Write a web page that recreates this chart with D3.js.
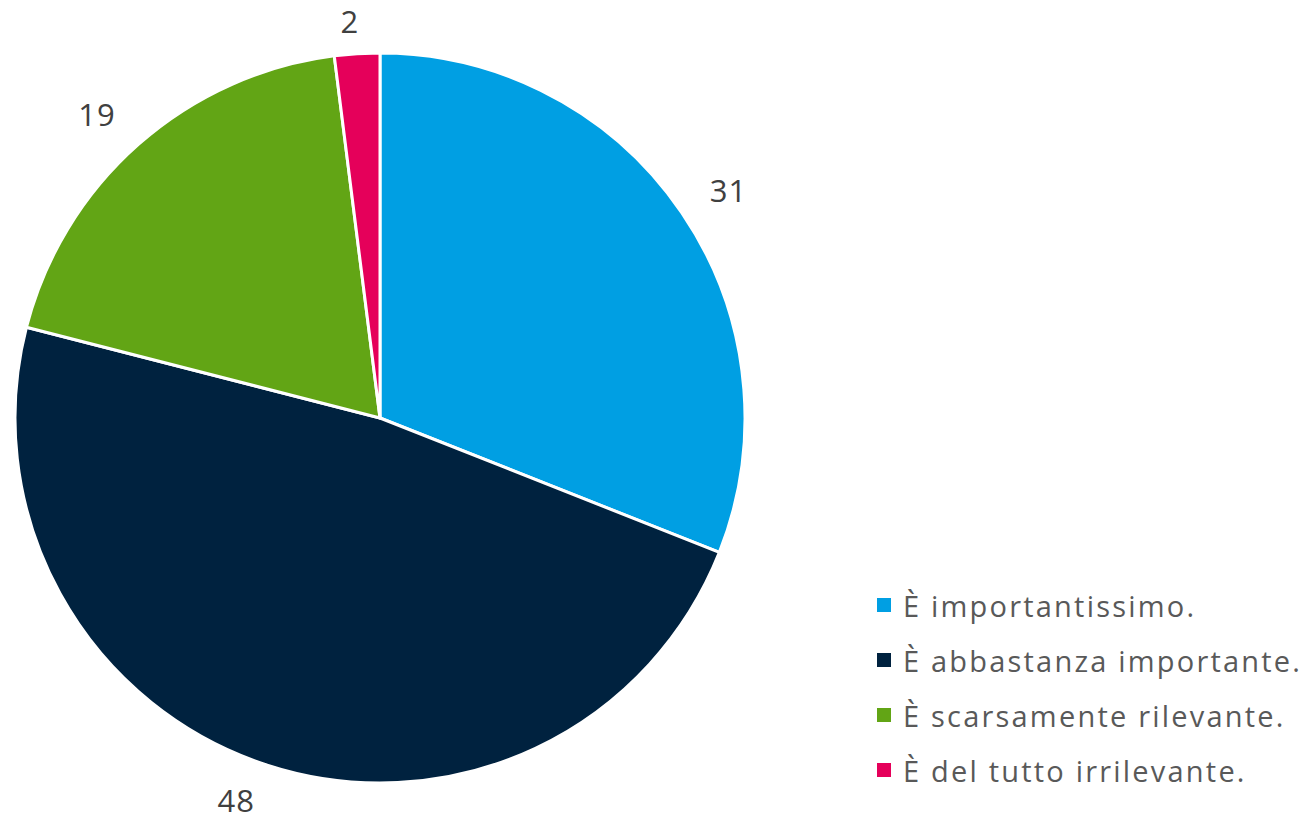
<!DOCTYPE html>
<html><head><meta charset="utf-8">
<script src="https://cdn.jsdelivr.net/npm/d3@7"></script>
<style>
html,body{margin:0;padding:0;background:#fff;}
svg{display:block;font-family:"Open Sans","Noto Sans",sans-serif;}
</style></head>
<body><svg id="chart" width="1307" height="824"></svg>
<script>
const categories = ["È importantissimo.", "È abbastanza importante.", "È scarsamente rilevante.", "È del tutto irrilevante."];
const values = [31, 48, 19, 2];
const colors = ["#009fe3", "#00223f", "#62a515", "#e5005a"];

const svg = d3.select("#chart");
const cx = 380, cy = 418, R = 365;

const pie = d3.pie().sort(null).value(d => d)(values);
const arc = d3.arc().innerRadius(0).outerRadius(R);

const g = svg.append("g").attr("transform", `translate(${cx},${cy})`);
g.selectAll("path.slice").data(pie).join("path")
  .attr("class", "slice")
  .attr("d", arc)
  .attr("fill", (d, i) => colors[i])
  .attr("stroke", "#fff")
  .attr("stroke-width", 3)
  .attr("stroke-linejoin", "round");

// data labels outside end
const labelR = 395;
const lbl = g.selectAll("text.lbl").data(pie).join("text")
  .attr("class", "lbl")
  .attr("text-anchor", "middle")
  .attr("dominant-baseline", "central")
  .attr("font-size", 31)
  .attr("letter-spacing", 1)
  .attr("fill", "#404040")
  .text(d => d.data);
lbl.each(function(d) {
  const bb = this.getBBox();
  const a = (d.startAngle + d.endAngle) / 2;
  const s = Math.sin(a), c = Math.cos(a);
  const sg = Math.sign(s);
  const ox = sg * (bb.width / 2 * Math.min(1, Math.abs(s) * 4) + 3);
  const oy = -c * 12 * Math.sqrt(Math.abs(s));
  d3.select(this).attr("x", labelR * s + ox).attr("y", -labelR * c + oy);
});

// legend
const legY = d3.scalePoint().domain(categories).range([605, 770]);
const items = svg.append("g").selectAll("g").data(categories).join("g")
  .attr("transform", d => `translate(877,${legY(d)})`);
items.append("rect")
  .attr("x", 0).attr("y", -7).attr("width", 14).attr("height", 14)
  .attr("fill", (d, i) => colors[i]);
items.append("text")
  .attr("x", 26).attr("y", 0)
  .attr("dominant-baseline", "central")
  .attr("font-size", 29)
  .attr("letter-spacing", 2.2)
  .attr("fill", "#595959")
  .text(d => d);
</script>
</body></html>
